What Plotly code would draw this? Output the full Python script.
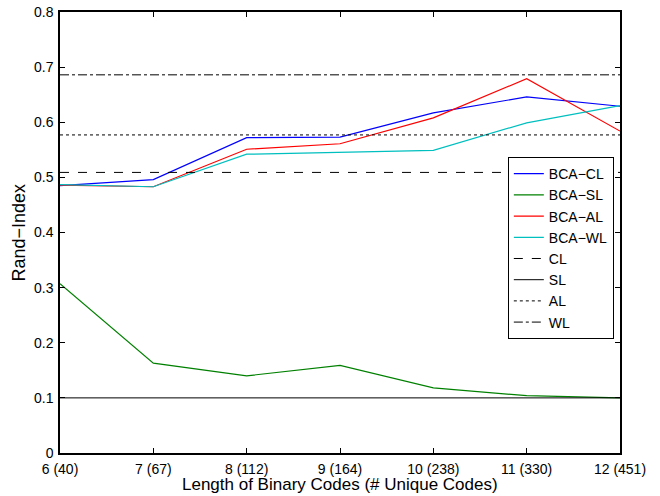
import plotly.graph_objects as go

bits = [6, 7, 8, 9, 10, 11, 12]
tick_labels = ["6 (40)", "7 (67)", "8 (112)", "9 (164)", "10 (238)", "11 (330)", "12 (451)"]

bca_cl = [0.485, 0.496, 0.572, 0.573, 0.617, 0.646, 0.629]
bca_sl = [0.307, 0.163, 0.140, 0.159, 0.118, 0.104, 0.100]
bca_al = [0.486, 0.483, 0.551, 0.561, 0.608, 0.679, 0.584]
bca_wl = [0.487, 0.483, 0.542, 0.546, 0.549, 0.599, 0.630]

baseline_names = ["CL", "SL", "AL", "WL"]
baseline_values = [0.509, 0.100, 0.577, 0.686]

y_ticks = [0, 0.1, 0.2, 0.3, 0.4, 0.5, 0.6, 0.7, 0.8]
y_tick_text = ["0", "0.1", "0.2", "0.3", "0.4", "0.5", "0.6", "0.7", "0.8"]

x_title = "Length of Binary Codes (# Unique Codes)"
y_title = "Rand\u2212Index"

fig = go.Figure()

series = [("BCA\u2212CL", bca_cl, "#0000ff"),
          ("BCA\u2212SL", bca_sl, "#008000"),
          ("BCA\u2212AL", bca_al, "#ff0000"),
          ("BCA\u2212WL", bca_wl, "#00bfbf")]
for name, vals, col in series:
    fig.add_trace(go.Scatter(x=bits, y=vals, mode="lines", name=name,
                             line=dict(color=col, width=1.2)))

dashes = ["dash", "solid", "dot", "dashdot"]
for name, val, dsh in zip(baseline_names, baseline_values, dashes):
    fig.add_trace(go.Scatter(x=bits, y=[val] * len(bits), mode="lines", name=name,
                             line=dict(color="black", width=1, dash=dsh)))

axis_common = dict(showline=True, linecolor="black", linewidth=1.5, mirror="ticks",
                   ticks="inside", ticklen=5, tickcolor="black", showgrid=False,
                   zeroline=False, automargin=False,
                   tickfont=dict(size=14, color="black"))

fig.update_xaxes(range=[6, 12], tickvals=bits, ticktext=tick_labels,
                 ticklabelstandoff=2, **axis_common)
fig.update_yaxes(range=[0, 0.8], tickvals=y_ticks, ticktext=y_tick_text,
                 ticklabelstandoff=2, **axis_common)

fig.add_annotation(text=x_title, xref="paper", yref="paper", x=0.5, y=0,
                   xanchor="center", yanchor="bottom", yshift=-43, showarrow=False,
                   font=dict(size=17, color="black"))
fig.add_annotation(text=y_title, xref="paper", yref="paper", x=0, y=0.5,
                   xanchor="center", yanchor="middle", xshift=-42, textangle=-90,
                   showarrow=False, font=dict(size=18, color="black"))

fig.update_layout(
    width=660, height=496,
    margin=dict(l=60, r=40, t=12, b=43),
    paper_bgcolor="white", plot_bgcolor="white",
    font=dict(family="Liberation Sans, Arial, sans-serif", color="black"),
    legend=dict(x=0.989, y=0.671, xanchor="right", yanchor="top",
                bgcolor="white", bordercolor="black", borderwidth=1,
                font=dict(size=14), tracegroupgap=0, itemwidth=30),
    showlegend=True,
)

fig.write_html("out.html")
